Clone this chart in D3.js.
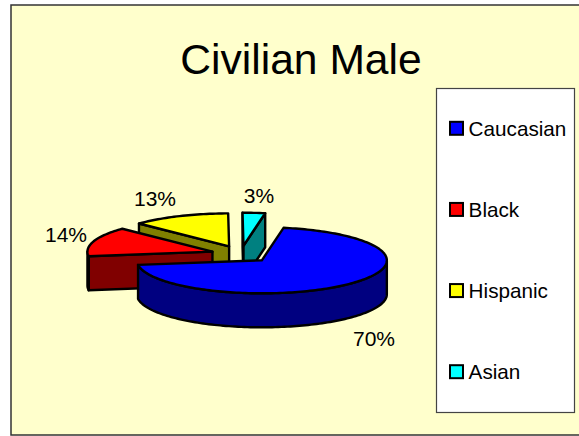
<!DOCTYPE html>
<html>
<head>
<meta charset="utf-8">
<title>Civilian Male</title>
<script src="https://d3js.org/d3.v7.min.js"></script>
<style>
  body { margin: 0; background: #fff; }
  text { font-family: "Liberation Sans", Arial, sans-serif; fill: #000; }
</style>
</head>
<body>
<script>
var categories = ["Caucasian", "Black", "Hispanic", "Asian"];
var values = [70, 14.4, 12.7, 2.9];
var topColors = ["#0000ff", "#ff0000", "#ffff00", "#00ffff"];
var sideColors = ["#000080", "#800000", "#808000", "#008080"];
var labelPos = [[374, 338], [66, 234.5], [155, 198], [259, 195]];

var width = 579, height = 436;
var cx = 241, cy = 254.2, rx = 125, ry = 33, depth = 34;
var explodeX = 30, explodeY = 8.5;

var svg = d3.select("body").append("svg")
  .attr("width", width).attr("height", height)
  .style("display", "block");

// chart area runs off the right edge of the window
svg.append("rect")
  .attr("x", 11).attr("y", 5).attr("width", 580).attr("height", 430)
  .attr("fill", "#ffffcc").attr("stroke", "#333").attr("stroke-width", 1.5);

svg.append("text")
  .attr("x", 301).attr("y", 74).attr("text-anchor", "middle")
  .attr("font-size", 42.6).text("Civilian Male");

var start = 10 * Math.PI / 180;
var slices = d3.pie().sort(null).startAngle(start).endAngle(start + 2 * Math.PI)(values);
var line = d3.line();

function rim(s, a, dy) {
  return [s.x + rx * Math.sin(a), s.y - ry * Math.cos(a) + (dy || 0)];
}
function arcPts(s, a0, a1, dy) {
  var n = Math.max(2, Math.ceil((a1 - a0) * 40));
  return d3.range(n + 1).map(function(i) {
    return rim(s, a0 + (a1 - a0) * i / n, dy);
  });
}

slices.forEach(function(d) {
  var mid = (d.startAngle + d.endAngle) / 2;
  d.x = cx + explodeX * Math.sin(mid);
  d.y = cy - explodeY * Math.cos(mid);
});

var TAU = 2 * Math.PI;
var g = svg.append("g")
  .attr("stroke", "#000").attr("stroke-width", 2.4).attr("stroke-linejoin", "round");

// back slices first, the big one goes on top
d3.range(slices.length - 1, -1, -1).forEach(function(i) {
  var d = slices[i], c = [d.x, d.y], side = sideColors[i];

  function wall(a) {
    var r = rim(d, a);
    g.append("path").attr("fill", side)
      .attr("d", line([c, r, [r[0], r[1] + depth], [c[0], c[1] + depth]]) + "Z");
  }
  var sa = d.startAngle % TAU, ea = d.endAngle % TAU;
  if (sa > Math.PI) wall(sa);
  if (ea < Math.PI) wall(ea);

  // outer rim, only the front half of the ellipse shows
  var a0 = Math.max(d.startAngle, Math.PI / 2), a1 = Math.min(d.endAngle, 1.5 * Math.PI);
  if (a1 > a0) {
    var front = arcPts(d, a0, a1, 0).concat(arcPts(d, a0, a1, depth).reverse());
    g.append("path").attr("fill", side).attr("d", line(front) + "Z");
  }

  var top = [c].concat(arcPts(d, d.startAngle, d.endAngle, 0));
  g.append("path").attr("fill", topColors[i]).attr("d", line(top) + "Z");
});

slices.forEach(function(d, i) {
  svg.append("text")
    .attr("x", labelPos[i][0]).attr("y", labelPos[i][1] + 7.5)
    .attr("text-anchor", "middle").attr("font-size", 21)
    .text(Math.round(d.value) + "%");
});

// legend
svg.append("rect")
  .attr("x", 436.5).attr("y", 88.5).attr("width", 138).attr("height", 324)
  .attr("fill", "#fff").attr("stroke", "#444").attr("stroke-width", 1.2);

var legendY = d3.scalePoint().domain(categories).range([128.3, 371.7]);
var legend = svg.selectAll(".legend").data(categories).enter().append("g")
  .attr("class", "legend")
  .attr("transform", function(d) { return "translate(0," + legendY(d) + ")"; });
legend.append("rect")
  .attr("x", 450).attr("y", -6.5).attr("width", 13).attr("height", 13)
  .attr("stroke", "#000").attr("stroke-width", 2)
  .attr("fill", function(d, i) { return topColors[i]; });
legend.append("text")
  .attr("x", 468.6).attr("y", 7.5).attr("font-size", 20.7)
  .text(function(d) { return d; });
</script>
</body>
</html>
